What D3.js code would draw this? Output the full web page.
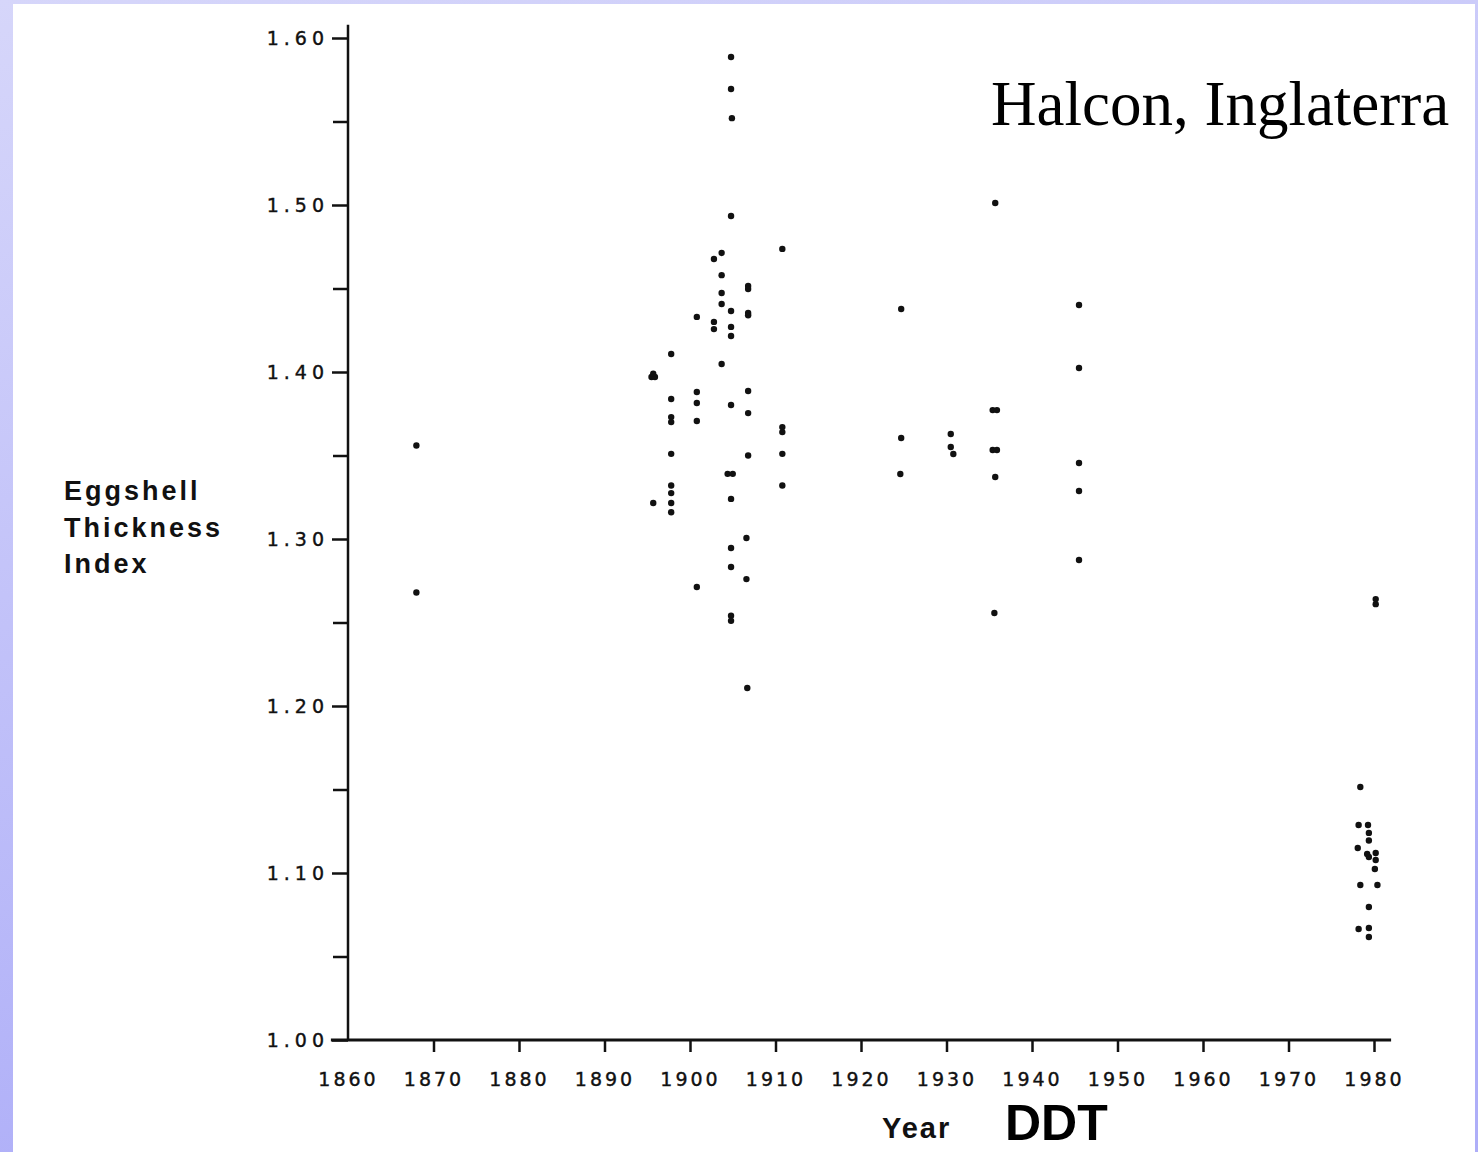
<!DOCTYPE html>
<html>
<head>
<meta charset="utf-8">
<script src="https://cdn.jsdelivr.net/npm/d3@7"></script>
<style>
  body { margin: 0; background: #fff; }
  svg { display: block; }
  .tick text { fill: #111; }
</style>
</head>
<body>
<div id="chart"></div>
<script>
// sample years and eggshell thickness index
var years = [
  1868, 1868,
  1895.5, 1895.9, 1895.7, 1895.7,
  1897.8, 1897.8, 1897.8, 1897.8, 1897.8, 1897.8, 1897.8, 1897.8, 1897.8,
  1900.8, 1900.8, 1900.8, 1900.8, 1900.8,
  1902.8, 1902.8, 1902.8,
  1903.7, 1903.7, 1903.7, 1903.7, 1903.7,
  1904.8, 1904.8, 1904.9, 1904.8, 1904.8, 1904.8, 1904.8, 1904.8, 1904.4, 1905.0, 1904.8, 1904.8, 1904.8, 1904.8, 1904.8,
  1906.8, 1906.8, 1906.8, 1906.8, 1906.8, 1906.8, 1906.8, 1906.6, 1906.6, 1906.7,
  1910.8, 1910.8, 1910.8, 1910.8, 1910.8,
  1924.7, 1924.7, 1924.6,
  1930.5, 1930.5, 1930.8,
  1935.7, 1935.4, 1935.9, 1935.4, 1935.9, 1935.7, 1935.6,
  1945.5, 1945.5, 1945.5, 1945.5, 1945.5,
  1978.4, 1978.2, 1978.1, 1978.4, 1978.2,
  1979.3, 1979.4, 1979.4, 1979.2, 1979.4, 1979.4, 1979.4, 1979.4,
  1980.2, 1980.2, 1980.2, 1980.2, 1980.1, 1980.4
]
var thickness = [
  1.356, 1.268,
  1.397, 1.397, 1.399, 1.3216,
  1.4108, 1.3838, 1.373, 1.370, 1.351, 1.332, 1.3275, 1.3216, 1.316,
  1.433, 1.388, 1.3814, 1.3707, 1.2713,
  1.4677, 1.430, 1.4257,
  1.4713, 1.458, 1.4473, 1.4407, 1.4048,
  1.5886, 1.5695, 1.552, 1.4934, 1.4365, 1.427, 1.4216, 1.3802, 1.339, 1.339, 1.324, 1.2946, 1.2832, 1.254, 1.251,
  1.4515, 1.4497, 1.4353, 1.434, 1.3886, 1.3754, 1.350, 1.3006, 1.276, 1.2108,
  1.4737, 1.367, 1.364, 1.351, 1.332,
  1.4377, 1.3605, 1.3389,
  1.3629, 1.3551, 1.3509,
  1.5012, 1.3772, 1.3772, 1.3533, 1.3533, 1.3371, 1.2557,
  1.4401, 1.4024, 1.3455, 1.3287, 1.2874,
  1.1515, 1.1287, 1.115, 1.0928, 1.0665,
  1.1287, 1.124, 1.1195, 1.1114, 1.1096, 1.0796, 1.0671, 1.0617,
  1.2640, 1.2610, 1.112, 1.1078, 1.1024, 1.0928
]

var yearTicks = [1860, 1870, 1880, 1890, 1900, 1910, 1920, 1930, 1940, 1950, 1960, 1970, 1980]
var indexTicks = [1.00, 1.10, 1.20, 1.30, 1.40, 1.50, 1.60]
var minorTicks = [1.05, 1.15, 1.25, 1.35, 1.45, 1.55]

var width = 1478
var height = 1152

var svg = d3.select('#chart').append('svg')
    .attr('width', width)
    .attr('height', height)

// lavender slide frame
var grad = svg.append('defs').append('linearGradient')
    .attr('id', 'frame')
    .attr('x1', 0).attr('y1', 0)
    .attr('x2', 0.3).attr('y2', 1)
grad.append('stop').attr('offset', 0).attr('stop-color', '#d6d6fa')
grad.append('stop').attr('offset', 1).attr('stop-color', '#aeaef8')

svg.append('rect')
    .attr('width', width)
    .attr('height', height)
    .attr('fill', 'url(#frame)')
svg.append('rect')
    .attr('x', 13).attr('y', 4)
    .attr('width', 1462).attr('height', height - 4)
    .attr('fill', '#fff')

// scales
var x = d3.scaleLinear()
    .domain([1860, 1980])
    .range([348, 1374])
var y = d3.scaleLinear()
    .domain([1.0, 1.6])
    .range([1040, 38])

var ink = '#111'

// y axis
var yAxis = svg.append('g')
    .attr('transform', 'translate(' + x(1860) + ',0)')
    .call(d3.axisLeft(y)
        .tickValues(indexTicks)
        .tickSize(16)
        .tickPadding(3)
        .tickFormat(d3.format('.2f')))
yAxis.select('.domain').remove()
yAxis.selectAll('.tick line').attr('stroke', ink).attr('stroke-width', 2.5)
yAxis.selectAll('.tick text')
    .attr('font-family', 'DejaVu Sans')
    .attr('font-size', 19)
    .attr('letter-spacing', 5)
    .attr('stroke', ink)
    .attr('stroke-width', 0.4)

var yMinor = svg.append('g')
    .attr('transform', 'translate(' + x(1860) + ',0)')
    .call(d3.axisLeft(y).tickValues(minorTicks).tickSize(15).tickFormat(''))
yMinor.select('.domain').remove()
yMinor.selectAll('.tick line').attr('stroke', ink).attr('stroke-width', 2.5)

// x axis
var xAxis = svg.append('g')
    .attr('transform', 'translate(0,' + y(1.0) + ')')
    .call(d3.axisBottom(x)
        .tickValues(yearTicks)
        .tickSize(12)
        .tickPadding(21)
        .tickFormat(d3.format('d')))
xAxis.select('.domain').remove()
xAxis.selectAll('.tick line')
    .attr('stroke', ink)
    .attr('stroke-width', 2.5)
    .filter(function (d) { return d == 1860 })
    .remove()
xAxis.selectAll('.tick text')
    .attr('font-family', 'DejaVu Sans')
    .attr('font-size', 19)
    .attr('letter-spacing', 3)
    .attr('stroke', ink)
    .attr('stroke-width', 0.4)

// axis lines
svg.append('line')
    .attr('x1', x(1860)).attr('x2', x(1860))
    .attr('y1', y(1.0)).attr('y2', y(1.608))
    .attr('stroke', ink).attr('stroke-width', 2.5)
svg.append('line')
    .attr('x1', x(1858)).attr('x2', x(1982))
    .attr('y1', y(1.0)).attr('y2', y(1.0))
    .attr('stroke', ink).attr('stroke-width', 3)

// points
svg.append('g')
    .selectAll('circle')
    .data(years)
    .enter().append('circle')
        .attr('cx', function (d) { return x(d) })
        .attr('cy', function (d, i) { return y(thickness[i]) })
        .attr('r', 3.2)
        .attr('fill', ink)

// labels
var title = svg.append('text')
    .attr('font-family', 'Liberation Sans, Arial, sans-serif')
    .attr('font-weight', 'bold')
    .attr('font-size', 27)
    .attr('letter-spacing', 3)
    .attr('fill', ink)
title.selectAll('tspan')
    .data(['Eggshell', 'Thickness', 'Index'])
    .enter().append('tspan')
        .attr('x', 64)
        .attr('y', function (d, i) { return 500 + i * 36.5 })
        .text(function (d) { return d })

svg.append('text')
    .attr('x', 882).attr('y', 1138)
    .attr('font-family', 'Liberation Sans, Arial, sans-serif')
    .attr('font-weight', 'bold')
    .attr('font-size', 29)
    .attr('letter-spacing', 2)
    .attr('fill', ink)
    .text('Year')

svg.append('text')
    .attr('x', 1005).attr('y', 1140)
    .attr('font-family', 'Liberation Sans, Arial, sans-serif')
    .attr('font-weight', 'bold')
    .attr('font-size', 50)
    .attr('fill', '#000')
    .text('DDT')

svg.append('text')
    .attr('x', 991).attr('y', 125)
    .attr('font-family', 'Liberation Serif, Times New Roman, serif')
    .attr('font-size', 63)
    .attr('fill', '#000')
    .text('Halcon, Inglaterra')
</script>
</body>
</html>
